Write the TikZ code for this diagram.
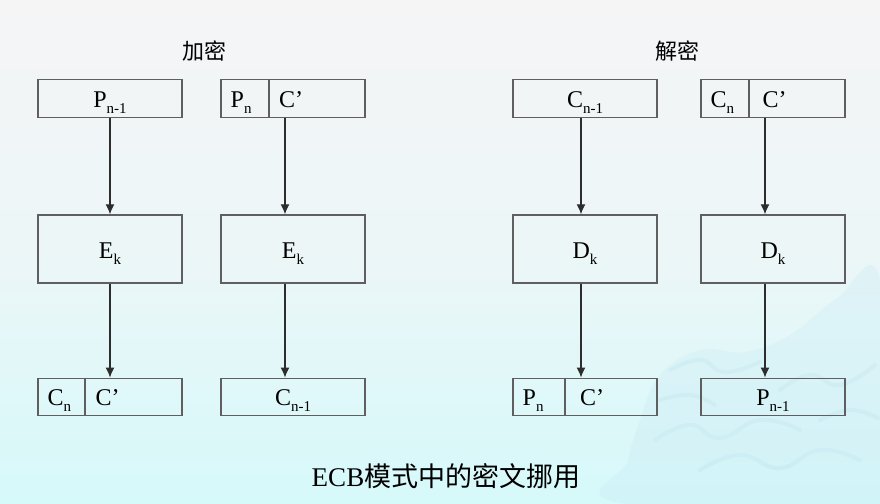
\documentclass[tikz,border=0pt]{standalone}
\usepackage{fontspec}
\setmainfont{Liberation Serif}
\newfontfamily\cjk{Noto Sans CJK SC}
\usetikzlibrary{arrows.meta}
\definecolor{boxline}{RGB}{95,95,95}
\definecolor{arrline}{RGB}{45,45,45}
\definecolor{bgtop}{RGB}{245,245,246}
\definecolor{bgmid}{RGB}{236,246,247}
\definecolor{bgbot}{RGB}{214,249,250}
\definecolor{cloud}{RGB}{200,234,245}
\definecolor{cloudline}{RGB}{175,218,236}
\newcommand{\lbl}[2]{#1\raisebox{-6pt}{\fontsize{15}{15}\selectfont #2}}
\tikzset{
  blk/.style={draw=boxline, line width=1.4pt, minimum width=144pt, inner sep=0pt},
  thin/.style={blk, minimum height=37.5pt},
  tall/.style={blk, minimum height=68pt},
  lab/.style={font=\fontsize{24}{24}\selectfont, inner sep=0pt},
  ttl/.style={font=\cjk\fontsize{22}{22}\selectfont, inner sep=0pt},
  arr/.style={draw=arrline, line width=1.3pt, -{Latex[length=10pt,width=9pt]}},
  divl/.style={draw=boxline, line width=1.4pt},
  wave/.style={draw=cloudline, line width=4pt, line cap=round, opacity=0.2}
}
\begin{document}
\begin{tikzpicture}[x=1pt,y=-1pt]
\useasboundingbox (0,0) rectangle (880,503);
\shade[top color=bgtop, bottom color=bgbot, middle color=bgmid] (0,0) rectangle (880,503);

% decorative cloud texture (bottom right)
\fill[cloud, opacity=0.3] plot[smooth cycle, tension=0.7] coordinates {
  (640,420) (660,375) (700,350) (745,352) (790,335) (835,300) (880,280)
  (880,503) (620,503) (628,460)};
\draw[wave] plot[smooth, tension=0.8] coordinates {(670,370) (700,360) (725,372) (760,362)};
\draw[wave] plot[smooth, tension=0.8] coordinates {(655,440) (690,425) (720,438) (760,420) (800,430)};
\draw[wave] plot[smooth, tension=0.8] coordinates {(700,470) (740,455) (780,468) (820,450) (860,460)};
\draw[wave] plot[smooth, tension=0.8] coordinates {(780,390) (810,375) (840,385) (875,365)};
\draw[wave] plot[smooth, tension=0.8] coordinates {(660,400) (690,395) (715,405)};
\draw[wave] plot[smooth, tension=0.8] coordinates {(820,420) (850,410) (878,418)};

% titles
\node[ttl] (t1) at (204,51) {加密};
\node[ttl] (t2) at (677,51) {解密};

% column A
\node[thin] (a1) at (110,98.5) {};
\node[tall] (a2) at (110,249) {};
\node[thin] (a3) at (110,397) {};
% column B
\node[thin] (b1) at (293,98.5) {};
\node[tall] (b2) at (293,249) {};
\node[thin] (b3) at (293,397) {};
% column C
\node[thin] (c1) at (585,98.5) {};
\node[tall] (c2) at (585,249) {};
\node[thin] (c3) at (585,397) {};
% column D
\node[thin] (d1) at (773,98.5) {};
\node[tall] (d2) at (773,249) {};
\node[thin] (d3) at (773,397) {};

% dividers
\coordinate (vb1) at (269,0);
\coordinate (va3) at (85,0);
\coordinate (vd1) at (749,0);
\coordinate (vc3) at (565,0);
\draw[divl] (b1.north -| vb1) -- (b1.south -| vb1);
\draw[divl] (a3.north -| va3) -- (a3.south -| va3);
\draw[divl] (d1.north -| vd1) -- (d1.south -| vd1);
\draw[divl] (c3.north -| vc3) -- (c3.south -| vc3);

% labels
\node[lab, anchor=base] (la1) at (110,107) {\lbl{P}{n-1}};
\node[lab, anchor=base west] (lb1a) at (230.5,107) {\lbl{P}{n}};
\node[lab, anchor=base west] (lb1b) at (279,107) {C’};
\node[lab, anchor=base] (la2) at (110,258) {\lbl{E}{k}};
\node[lab, anchor=base] (lb2) at (293,258) {\lbl{E}{k}};
\node[lab, anchor=base west] (la3a) at (47.5,405.5) {\lbl{C}{n}};
\node[lab, anchor=base west] (la3b) at (95.5,405.5) {C’};
\node[lab, anchor=base] (lb3) at (293,405.5) {\lbl{C}{n-1}};

\node[lab, anchor=base] (lc1) at (585,107) {\lbl{C}{n-1}};
\node[lab, anchor=base west] (ld1a) at (710.5,107) {\lbl{C}{n}};
\node[lab, anchor=base west] (ld1b) at (762.5,107) {C’};
\node[lab, anchor=base] (lc2) at (585,258) {\lbl{D}{k}};
\node[lab, anchor=base] (ld2) at (773,258) {\lbl{D}{k}};
\node[lab, anchor=base west] (lc3a) at (522.5,405.5) {\lbl{P}{n}};
\node[lab, anchor=base west] (lc3b) at (580,405.5) {C’};
\node[lab, anchor=base] (ld3) at (773,405.5) {\lbl{P}{n-1}};

% arrow columns
\coordinate (xa) at (110,0);
\coordinate (xb) at (285,0);
\coordinate (xc) at (581,0);
\coordinate (xd) at (765,0);
\draw[arr] (a1.south -| xa) -- (a2.north -| xa);
\draw[arr] (a2.south -| xa) -- (a3.north -| xa);
\draw[arr] (b1.south -| xb) -- (b2.north -| xb);
\draw[arr] (b2.south -| xb) -- (b3.north -| xb);
\draw[arr] (c1.south -| xc) -- (c2.north -| xc);
\draw[arr] (c2.south -| xc) -- (c3.north -| xc);
\draw[arr] (d1.south -| xd) -- (d2.north -| xd);
\draw[arr] (d2.south -| xd) -- (d3.north -| xd);

% caption
\node[inner sep=0pt, anchor=base] (cap) at (446,486) {\fontsize{27}{27}\selectfont ECB{\cjk 模式中的密文挪用}};
\end{tikzpicture}
\end{document}
